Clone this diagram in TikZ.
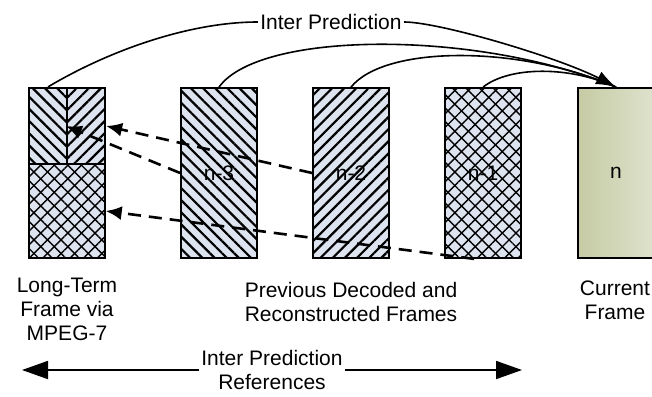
\documentclass[tikz,border=0pt]{standalone}
\usepackage{fontspec}
\setmainfont{Liberation Sans}
\usetikzlibrary{patterns.meta,arrows.meta}
\tikzstyle{pixelGrid} = [x=0.5pt, y=-0.5pt, font=\fontsize{10.5}{12}\selectfont]
\definecolor{frameFill}{RGB}{221,228,240}
\definecolor{currentLeft}{RGB}{198,203,164}
\definecolor{currentRight}{RGB}{222,226,204}
\tikzstyle{frameStyle} = [draw, line width=0.9pt, minimum width=38pt, minimum height=85pt, inner sep=0pt, preaction={fill=frameFill}]
\tikzstyle{hatchDown} = [pattern={Lines[angle=-45, distance=4.3pt, line width=1.1pt]}]
\tikzstyle{hatchUp} = [pattern={Lines[angle=45, distance=4.3pt, line width=1.1pt]}]
\tikzstyle{crossHatch} = [pattern={Lines[angle=45, distance=4.8pt, line width=0.7pt]}, postaction={pattern={Lines[angle=-45, distance=4.8pt, line width=0.7pt]}}]
\tikzstyle{currentStyle} = [draw, line width=0.9pt, minimum width=38pt, minimum height=85pt, inner sep=0pt, left color=currentLeft, right color=currentRight]
\tikzstyle{labelText} = [align=center]
\tikzstyle{predLine} = [line width=0.8pt]
\tikzstyle{predCurve} = [predLine, -{Latex[length=10pt, width=7pt]}]
\tikzstyle{refArrow} = [line width=1.3pt, dash pattern=on 6.5pt off 4pt, -{Latex[length=8pt, width=7pt]}]
\tikzstyle{rangeArrow} = [line width=0.9pt, -{Triangle[length=13pt, width=9pt]}]
\newcommand{\prevFrame}[4]{\node [frameStyle, #4] (#1) at (#2,173) {#3};}

\begin{document}
\begin{tikzpicture}[pixelGrid]
\useasboundingbox (0,0) rectangle (652,396);
% long-term frame
\node [frameStyle, minimum width=19pt, minimum height=38pt, hatchDown] (ltTopLeft) at (48,126) {};
\node [frameStyle, minimum width=19pt, minimum height=38pt, hatchUp] (ltTopRight) at (86,126) {};
\node [frameStyle, minimum width=38pt, minimum height=47pt, crossHatch] (ltBottom) at (67,211) {};
% previous frames
\prevFrame{n3}{219}{n-3}{hatchDown}
\prevFrame{n2}{351}{n-2}{hatchUp}
\prevFrame{n1}{483}{n-1}{crossHatch}
\node [currentStyle] (n) at (616,173) {n};
% labels
\node [labelText] (ltLabel) at (67,309) {Long-Term\\Frame via\\MPEG-7};
\node [labelText] (prevLabel) at (351,302) {Previous Decoded and\\Reconstructed Frames};
\node [labelText] (curLabel) at (615,300) {Current\\Frame};
\node [labelText, inner sep=1pt] (topLabel) at (331,22) {Inter Prediction};
\node [labelText, inner sep=1pt] (refLabel) at (272,370) {Inter Prediction\\References};
% inter prediction curves
\draw [predLine] (ltTopLeft.north) .. controls (110,50) and (190,22) .. (topLabel.west);
\draw [predLine] (n3.north) .. controls (260,30) and (480,30) .. (n.north);
\draw [predLine] (n2.north) .. controls (385,45) and (520,45) .. (n.north);
\draw [predLine] (n1.north) .. controls (510,66) and (570,66) .. (n.north);
\draw [predCurve] (topLabel.east) .. controls (440,22) and (560,58) .. (n.north);
% long-term references
\coordinate (n1Foot) at ([xshift=15pt]n1.south west);
\draw [refArrow] (n3.west) -- (ltTopRight.west);
\draw [refArrow] (n2.west) -- (ltTopRight.east);
\draw [refArrow] (n1Foot) -- (ltBottom.east);
% reference range
\coordinate (leftTip) at (22,370);
\coordinate (rightTip) at (522,370);
\draw [rangeArrow] (refLabel.west) -- (leftTip);
\draw [rangeArrow] (refLabel.east) -- (rightTip);
\end{tikzpicture}
\end{document}
